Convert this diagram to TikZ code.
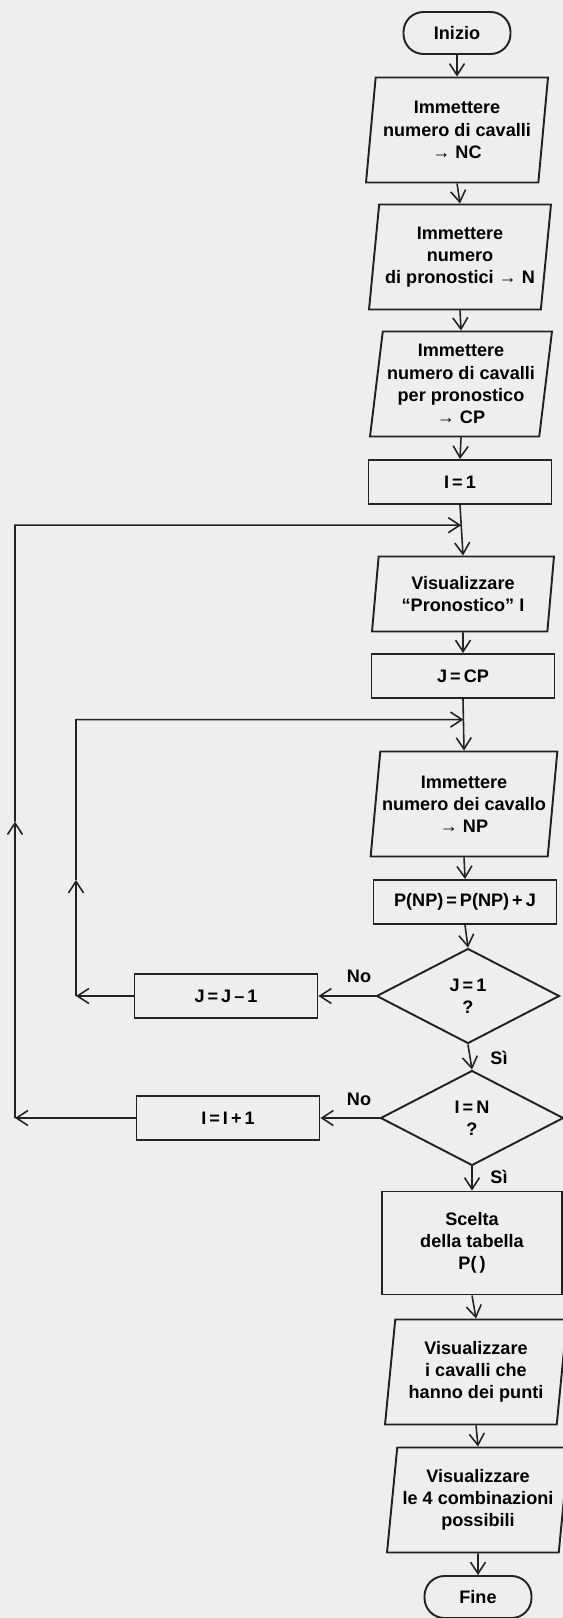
\documentclass[tikz,border=0pt]{standalone}
\usepackage{fontspec}
\setmainfont{Liberation Sans}
\usetikzlibrary{arrows.meta,positioning,calc,shapes.geometric}
\definecolor{Paper}{HTML}{EEEEEE}
\definecolor{Ink}{HTML}{222222}
\newcommand{\chartfont}{\fontsize{10.3}{12.6}\selectfont\bfseries}

\begin{document}
\begin{tikzpicture}[x=0.02cm,y=-0.02cm,
    terminal/.style={rectangle,rounded corners=0.4cm,draw=Ink,line width=1.1pt,minimum width=2.14cm,minimum height=0.84cm,font=\chartfont},
    iobox/.style={trapezium,trapezium left angle=82,trapezium right angle=98,trapezium stretches body,draw=Ink,line width=1.1pt,minimum width=3.64cm,minimum height=2.1cm,align=center,inner xsep=1pt,font=\chartfont},
    procbox/.style={rectangle,draw=Ink,line width=1.1pt,minimum width=3.66cm,minimum height=0.88cm,align=center,font=\chartfont},
    decision/.style={diamond,draw=Ink,line width=1.1pt,minimum width=3.66cm,minimum height=1.9cm,aspect=1.9,inner sep=0pt,align=center,font=\chartfont},
    answer/.style={font=\chartfont,inner sep=1pt},
    flow/.style={-{Straight Barb[length=2.3mm,width=3mm]},draw=Ink,line width=0.9pt}
]
\useasboundingbox (0,0) rectangle (563,1618);
\fill[Paper] (0,0) rectangle (563,1618);

% main column
\node[terminal] (inizio) at (457,33) {Inizio};
\node[iobox] (nc) at (457,130) {Immettere\\numero di cavalli\\→ NC};
\node[iobox] (npr) at (460,257) {Immettere\\numero\\di pronostici → N};
\node[iobox] (cp) at (461,384) {Immettere\\numero di cavalli\\per pronostico\\→ CP};
\node[procbox] (i1) at (460,482) {I\,=\,1};
\node[iobox,minimum height=1.5cm] (vis) at (463,594) {Visualizzare\\``Pronostico'' I};
\node[procbox] (jcp) at (463,676) {J\,=\,CP};
\node[iobox] (np) at (464,804) {Immettere\\numero dei cavallo\\→ NP};
\node[procbox] (pnp) at (465,902) {P(NP)\,=\,P(NP)\,+\,J};
\node[decision] (dj) at (468,996) {J\,=\,1\\?};
\node[decision] (di) at (472,1118) {I\,=\,N\\?};
\node[procbox,minimum width=3.6cm,minimum height=2.06cm] (scelta) at (472,1243) {Scelta\\della tabella\\P(\,)};
\node[iobox] (cav) at (476,1372) {Visualizzare\\i cavalli che\\hanno dei punti};
\node[iobox] (comb) at (478,1500) {Visualizzare\\le 4 combinazioni\\possibili};
\node[terminal] (fine) at (478,1597) {Fine};

% counters on the left
\node[procbox] (jm) at (226,996) {J\,=\,J\,--\,1};
\node[procbox] (ip) at (228,1118) {I\,=\,I\,+\,1};

\node[answer] (no1) at (359,976) {No};
\node[answer] (no2) at (359,1099) {No};
\node[answer] (si1) at (499,1058) {Sì};
\node[answer] (si2) at (499,1177) {Sì};

\coordinate (ol) at (15,0);
\coordinate (il) at (76,0);
\coordinate (ot) at ($(i1.south)!0.4!(vis.north)$);
\coordinate (it) at ($(jcp.south)!0.4!(np.north)$);
\coordinate (om) at ($(ip.west -| ol)!0.5!(ot -| ol)$);
\coordinate (im) at ($(jm.west -| il)!0.42!(it -| il)$);

\foreach \a/\b in {inizio/nc,nc/npr,npr/cp,cp/i1,i1/vis,vis/jcp,jcp/np,np/pnp,pnp/dj,dj/di,di/scelta,scelta/cav,cav/comb,comb/fine}
  \draw[flow] (\a.south) -- (\b.north);
\draw[flow] (dj.west) -- (jm.east);
\draw[flow] (di.west) -- (ip.east);

% loops back
\draw[flow] (jm.west) -- (jm.west -| il);
\draw[flow] (jm.west -| il) -- (im);
\draw[flow] (im) -- (it -| il) -- (it);
\draw[flow] (ip.west) -- (ip.west -| ol);
\draw[flow] (ip.west -| ol) -- (om);
\draw[flow] (om) -- (ot -| ol) -- (ot);
\end{tikzpicture}
\end{document}
